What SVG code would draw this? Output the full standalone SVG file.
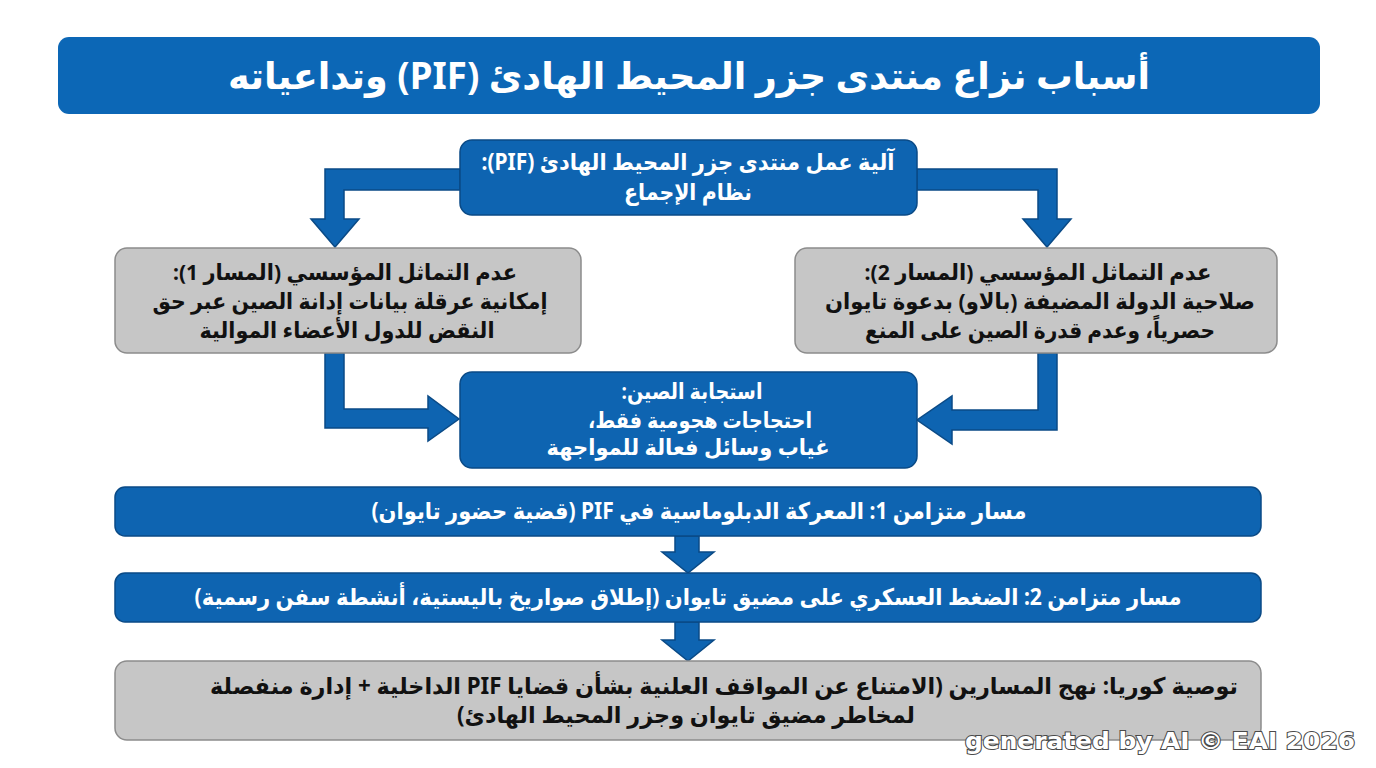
<svg xmlns="http://www.w3.org/2000/svg" width="1376" height="768" viewBox="0 0 1376 768">
<style>
.blue{fill:#0E64B1;stroke:#0A4A86;stroke-width:1.5}
.gray{fill:#C6C6C6;stroke:#8C8C8C;stroke-width:1.5}
.conn{fill:#0E64B1;stroke:#0A4A86;stroke-width:1.5;stroke-linejoin:miter}
.t{font-family:"Noto Sans","DejaVu Sans",sans-serif;font-weight:bold;text-anchor:middle;direction:rtl}
.w{fill:#FFFFFF}
.k{fill:#111111}
.wm{font-family:"DejaVu Sans",sans-serif;font-weight:bold;font-size:23px;fill:#FFFFFF;stroke:#4A4A4A;stroke-width:2;paint-order:stroke;text-anchor:end}
</style>
<rect width="1376" height="768" fill="#FFFFFF"/>
<g id="title">
<rect x="58" y="37" width="1262" height="77" rx="11" fill="#0C67B6"/>
<text class="t w" x="689" y="89" font-size="37" textLength="922" lengthAdjust="spacingAndGlyphs">أسباب نزاع منتدى جزر المحيط الهادئ (PIF) وتداعياته</text>
</g>
<g id="connectors">
<path class="conn" d="M460,169 L325,169 L325,219 L311,219 L335,247 L359,219 L344,219 L344,190 L460,190 Z"/>
<path class="conn" d="M917,169 L1057,169 L1057,219 L1071,219 L1047,247 L1023,219 L1038,219 L1038,190 L917,190 Z"/>
<path class="conn" d="M325,353 L325,428 L428,428 L428,441 L459,419 L428,396 L428,409 L344,409 L344,353 Z"/>
<path class="conn" d="M1057,353 L1057,430 L952,430 L952,444 L917,420 L952,396 L952,410 L1038,410 L1038,353 Z"/>
<path class="conn" d="M675,536 L675,552 L662,552 L688,573 L714,552 L699,552 L699,536 Z"/>
<path class="conn" d="M675,622 L675,640 L662,640 L688,661 L714,640 L699,640 L699,622 Z"/>
</g>
<g id="node-mechanism">
<rect class="blue" x="460" y="140" width="457" height="75" rx="12"/>
<text class="t w" x="688" y="170" font-size="23" textLength="413" lengthAdjust="spacingAndGlyphs">آلية عمل منتدى جزر المحيط الهادئ (PIF):</text>
<text class="t w" x="688" y="200" font-size="23" textLength="128" lengthAdjust="spacingAndGlyphs">نظام الإجماع</text>
</g>
<g id="node-path1">
<rect class="gray" x="115" y="248" width="466" height="105" rx="12"/>
<text class="t k" x="345" y="280" font-size="22" textLength="344" lengthAdjust="spacingAndGlyphs">عدم التماثل المؤسسي (المسار 1):</text>
<text class="t k" x="350" y="309" font-size="22" textLength="395" lengthAdjust="spacingAndGlyphs">إمكانية عرقلة بيانات إدانة الصين عبر حق</text>
<text class="t k" x="347" y="338" font-size="22" textLength="295" lengthAdjust="spacingAndGlyphs">النقض للدول الأعضاء الموالية</text>
</g>
<g id="node-path2">
<rect class="gray" x="795" y="248" width="482" height="105" rx="12"/>
<text class="t k" x="1038" y="280" font-size="22" textLength="347" lengthAdjust="spacingAndGlyphs">عدم التماثل المؤسسي (المسار 2):</text>
<text class="t k" x="1040" y="309" font-size="22" textLength="430" lengthAdjust="spacingAndGlyphs">صلاحية الدولة المضيفة (بالاو) بدعوة تايوان</text>
<text class="t k" x="1040" y="338" font-size="22" textLength="350" lengthAdjust="spacingAndGlyphs">حصرياً، وعدم قدرة الصين على المنع</text>
</g>
<g id="node-china">
<rect class="blue" x="460" y="372" width="457" height="96" rx="12"/>
<text class="t w" x="692" y="399" font-size="22" textLength="141" lengthAdjust="spacingAndGlyphs">استجابة الصين:</text>
<text class="t w" x="700" y="428" font-size="22" textLength="224" lengthAdjust="spacingAndGlyphs">احتجاجات هجومية فقط،</text>
<text class="t w" x="688" y="455" font-size="22" textLength="283" lengthAdjust="spacingAndGlyphs">غياب وسائل فعالة للمواجهة</text>
</g>
<g id="node-track1">
<rect class="blue" x="115" y="487" width="1146" height="49" rx="10"/>
<text class="t w" x="699" y="519" font-size="23" textLength="655" lengthAdjust="spacingAndGlyphs">مسار متزامن 1: المعركة الدبلوماسية في PIF (قضية حضور تايوان)</text>
</g>
<g id="node-track2">
<rect class="blue" x="115" y="573" width="1146" height="49" rx="10"/>
<text class="t w" x="688" y="605" font-size="23" textLength="987" lengthAdjust="spacingAndGlyphs">مسار متزامن 2: الضغط العسكري على مضيق تايوان (إطلاق صواريخ باليستية، أنشطة سفن رسمية)</text>
</g>
<g id="node-recommendation">
<rect class="gray" x="115" y="661" width="1146" height="79" rx="12"/>
<text class="t k" x="724" y="694" font-size="23" textLength="1028" lengthAdjust="spacingAndGlyphs">توصية كوريا: نهج المسارين (الامتناع عن المواقف العلنية بشأن قضايا PIF الداخلية + إدارة منفصلة</text>
<text class="t k" x="686" y="723" font-size="23" textLength="458" lengthAdjust="spacingAndGlyphs">لمخاطر مضيق تايوان وجزر المحيط الهادئ)</text>
</g>
<text class="wm" x="1355" y="749" textLength="390" lengthAdjust="spacingAndGlyphs">generated by AI © EAI 2026</text>
</svg>
